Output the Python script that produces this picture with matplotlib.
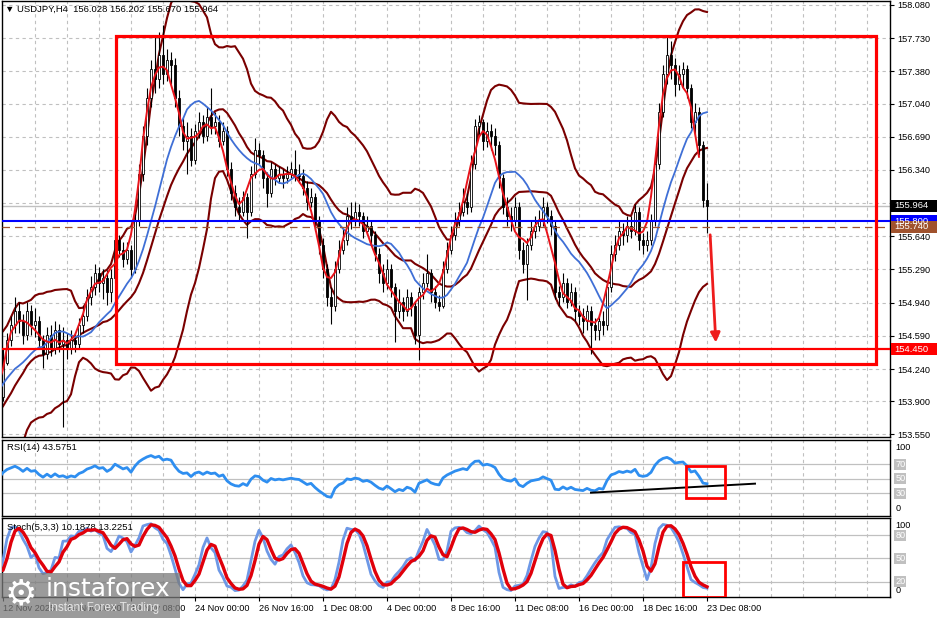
import numpy as np
import pandas as pd
import matplotlib
matplotlib.use('Agg')
import matplotlib.pyplot as plt
import matplotlib.transforms as mtransforms
from matplotlib.patches import Rectangle

plt.rcParams['font.family'] = ['Liberation Sans', 'DejaVu Sans']

# bars before the first visible one (only used to warm up the indicators)
pre_open0 = 153.25
pre_close = [153.20, 153.15, 153.35, 153.25, 153.40, 153.30, 153.35, 153.70, 154.00, 154.15,
             154.30, 154.10, 154.25, 154.05, 154.20, 154.15, 154.30, 154.00, 153.70, 153.95]
pre_high = [153.35, 153.30, 153.45, 153.42, 153.50, 153.48, 153.45, 153.80, 154.10, 154.25,
            154.40, 154.35, 154.32, 154.30, 154.28, 154.25, 154.38, 154.35, 154.05, 154.02]
pre_low = [153.10, 153.05, 153.10, 153.18, 153.20, 153.22, 153.25, 153.30, 153.65, 153.95,
           154.10, 154.02, 154.05, 153.98, 154.00, 154.05, 154.10, 153.92, 153.60, 153.65]

# USDJPY H4, 12 Nov 2025 00:00 .. 23 Dec 2025 08:00
close = [154.30, 154.55, 154.70, 154.85, 154.75, 154.60, 154.85, 154.70, 154.75, 154.55,
         154.40, 154.60, 154.45, 154.65, 154.50, 154.55, 154.45, 154.55, 154.50, 154.70,
         154.80, 155.00, 155.10, 155.25, 155.15, 155.20, 155.05, 155.20, 155.60, 155.50,
         155.40, 155.50, 155.30, 155.80, 156.30, 156.70, 157.10, 157.40, 157.30, 157.55,
         157.35, 157.50, 157.45, 157.10, 156.80, 156.65, 156.70, 156.45, 156.75, 156.85,
         156.70, 156.90, 156.80, 156.85, 156.65, 156.75, 156.35, 156.10, 155.95, 155.90,
         156.05, 155.90, 156.30, 156.55, 156.50, 156.25, 156.10, 156.35, 156.25, 156.30,
         156.25, 156.30, 156.35, 156.30, 156.28, 156.15, 156.00, 156.05, 155.80, 155.55,
         155.30, 155.00, 154.90, 155.30, 155.50, 155.60, 155.85, 155.80, 155.90, 155.85,
         155.70, 155.75, 155.65, 155.45, 155.25, 155.15, 155.30, 155.10, 154.85, 154.95,
         154.85, 155.00, 154.90, 154.60, 155.05, 155.15, 155.25, 155.05, 154.95, 154.90,
         155.30, 155.50, 155.65, 155.80, 155.90, 156.00, 155.95, 156.40, 156.80, 156.85,
         156.65, 156.75, 156.70, 156.60, 156.25, 155.95, 155.85, 155.80, 155.95, 155.50,
         155.35, 155.55, 155.70, 155.75, 155.80, 155.95, 155.85, 155.75, 155.05, 155.00,
         155.15, 154.95, 155.05, 154.85, 154.80, 154.75, 154.85, 154.70, 154.65, 154.75,
         154.70, 155.10, 155.45, 155.55, 155.70, 155.65, 155.75, 155.70, 155.90, 155.60,
         155.55, 155.60, 155.80, 156.40, 156.95, 157.35, 157.55, 157.45, 157.25, 157.35,
         157.40, 157.20, 156.85, 156.95, 156.60, 156.028, 155.964]
high = [154.45, 154.62, 154.80, 155.00, 154.95, 154.82, 154.95, 154.92, 154.88, 154.80,
        154.60, 154.68, 154.70, 154.75, 154.72, 154.68, 154.62, 154.65, 154.62, 154.78,
        154.90, 155.08, 155.22, 155.35, 155.32, 155.30, 155.28, 155.30, 155.68, 155.65,
        155.58, 155.58, 155.55, 155.88, 156.40, 156.80, 157.20, 157.50, 157.75, 157.80,
        157.87, 157.62, 157.58, 157.52, 157.18, 156.90, 156.85, 156.78, 156.82, 156.95,
        156.92, 157.00, 157.20, 156.95, 156.92, 156.85, 156.80, 156.42, 156.18, 156.05,
        156.12, 156.10, 156.38, 156.68, 156.62, 156.55, 156.32, 156.42, 156.40, 156.38,
        156.35, 156.38, 156.42, 156.55, 156.40, 156.35, 156.22, 156.15, 156.10, 155.85,
        155.62, 155.35, 155.10, 155.38, 155.60, 155.72, 155.95, 156.00, 156.00, 155.98,
        155.90, 155.85, 155.80, 155.70, 155.52, 155.35, 155.40, 155.35, 155.15, 155.08,
        155.00, 155.08, 155.05, 154.95, 155.10, 155.25, 155.45, 155.30, 155.12, 155.02,
        155.38, 155.58, 155.75, 155.90, 156.00, 156.15, 156.10, 156.50, 156.88, 156.92,
        156.88, 156.85, 156.82, 156.78, 156.65, 156.30, 156.05, 155.95, 156.05, 156.00,
        155.58, 155.62, 155.80, 155.85, 155.92, 156.05, 156.00, 155.92, 155.80, 155.12,
        155.25, 155.20, 155.15, 155.10, 154.92, 154.88, 154.92, 154.90, 154.78, 154.82,
        154.85, 155.18, 155.55, 155.65, 155.80, 155.78, 155.85, 155.85, 155.98, 155.95,
        155.68, 155.70, 155.88, 156.48, 157.05, 157.45, 157.76, 157.70, 157.52, 157.45,
        157.48, 157.45, 157.25, 157.05, 157.00, 156.65, 156.202]
low = [153.90, 154.28, 154.48, 154.62, 154.62, 154.50, 154.55, 154.60, 154.58, 154.45,
       154.25, 154.35, 154.38, 154.40, 154.42, 153.63, 154.35, 154.40, 154.42, 154.45,
       154.62, 154.75, 154.92, 155.02, 155.05, 154.98, 154.92, 154.95, 155.15, 155.42,
       155.32, 155.35, 155.20, 155.25, 155.75, 156.22, 156.60, 157.00, 157.15, 157.20,
       157.25, 157.28, 157.25, 157.00, 156.70, 156.55, 156.30, 156.38, 156.40, 156.68,
       156.62, 156.65, 156.72, 156.72, 156.58, 156.60, 156.28, 156.02, 155.85, 155.80,
       155.85, 155.62, 155.85, 156.25, 156.40, 156.15, 155.95, 156.05, 156.18, 156.20,
       156.15, 156.20, 156.25, 156.22, 156.20, 156.08, 155.92, 155.95, 155.70, 155.45,
       155.20, 154.90, 154.72, 154.85, 155.25, 155.45, 155.55, 155.72, 155.75, 155.75,
       155.62, 155.65, 155.55, 155.38, 155.15, 155.05, 155.08, 155.00, 154.52, 154.78,
       154.75, 154.80, 154.80, 154.50, 154.33, 154.98, 155.10, 154.95, 154.88, 154.85,
       154.88, 155.25, 155.45, 155.60, 155.75, 155.85, 155.88, 155.90, 156.35, 156.70,
       156.55, 156.58, 156.55, 156.50, 156.15, 155.88, 155.75, 155.70, 155.75, 155.40,
       155.25, 154.97, 155.50, 155.62, 155.70, 155.75, 155.78, 155.65, 154.98, 154.90,
       154.95, 154.88, 154.90, 154.75, 154.70, 154.62, 154.65, 154.40, 154.55, 154.55,
       154.60, 154.65, 155.05, 155.38, 155.50, 155.55, 155.58, 155.62, 155.65, 155.50,
       155.45, 155.48, 155.55, 155.75, 156.35, 156.90, 157.25, 157.30, 157.12, 157.18,
       157.22, 157.10, 156.78, 156.72, 156.50, 155.95, 155.670]

date_labels = ['12 Nov 2025', '14 Nov 16:00', '19 Nov 08:00', '24 Nov 00:00', '26 Nov 16:00',
               '1 Dec 08:00', '4 Dec 00:00', '8 Dec 16:00', '11 Dec 08:00', '16 Dec 00:00',
               '18 Dec 16:00', '23 Dec 08:00']
price_ticks = [158.080, 157.730, 157.380, 157.040, 156.690, 156.340, 155.640,
               155.290, 154.940, 154.590, 154.240, 153.900, 153.550]
grid_prices = price_ticks + [155.990]

bid = 155.964
level_blue = 155.800
level_brown = 155.740
support = 154.450
box_top, box_bottom = 157.753, 154.293

# ---- series with history ----
c = pd.Series(pre_close + close)
h = pd.Series(pre_high + high)
l = pd.Series(pre_low + low)
o = pd.Series(np.r_[pre_open0, c.values[:-1]])
xs = np.arange(-len(pre_close), len(close))

ma_fast = c.rolling(5, center=True).mean()
ma_slow = c.rolling(14).mean()
bb_mid = c.rolling(20).mean()
bb_sd = c.rolling(20).std(ddof=0)
bb_up = bb_mid + 2 * bb_sd
bb_lo = bb_mid - 2 * bb_sd

delta = c.diff()
gain = delta.clip(lower=0)
loss = -delta.clip(upper=0)
avg_g = gain.ewm(alpha=1 / 14, adjust=False).mean()
avg_l = loss.ewm(alpha=1 / 14, adjust=False).mean()
rsi = 100 - 100 / (1 + avg_g / avg_l)

ll = l.rolling(5).min()
hh = h.rolling(5).max()
st_k = 100 * (c - ll).rolling(3).sum() / (hh - ll).rolling(3).sum()
st_d = st_k.rolling(3).mean()

# ---- layout (pixel boxes) ----
W, H = 939, 618
fig = plt.figure(figsize=(W / 100, H / 100), dpi=100)


def box(x0, y0, x1, y1):
    return [x0 / W, 1 - y1 / H, (x1 - x0) / W, (y1 - y0) / H]


ax = fig.add_axes(box(2, 1, 890, 437))
ax_rsi = fig.add_axes(box(2, 440, 890, 516))
ax_st = fig.add_axes(box(2, 518, 890, 597))

XL = (-0.25, 221.75)
grid_kw = dict(color='#c0c0c0', lw=0.8, ls=(0, (3, 3)), zorder=0.5)

for a in (ax, ax_rsi, ax_st):
    a.set_xlim(*XL)
    for xv in range(8, 222, 8):
        a.axvline(xv, **grid_kw)
    for s in a.spines.values():
        s.set_color('black')
        s.set_linewidth(1)
    a.tick_params(axis='x', bottom=False, labelbottom=False)
    a.yaxis.tick_right()

# ---- main panel ----
ax.set_ylim(153.523, 158.122)
for p in grid_prices:
    ax.axhline(p, **grid_kw)
ax.axhline(bid, color='#c0c0c0', lw=1, zorder=0.6)

vis = xs >= 0
ax.plot(xs, bb_up, color='#7a0000', lw=1.5, zorder=1.5)
ax.plot(xs, bb_mid, color='#7a0000', lw=1.5, zorder=1.5)
ax.plot(xs, bb_lo, color='#7a0000', lw=1.5, zorder=1.5)

xv = xs[vis]
ov, cv, hv, lv = o[vis].values, c[vis].values, h[vis].values, l[vis].values
ax.vlines(xv, lv, hv, color='black', lw=0.8, zorder=2)
bull = cv >= ov
ax.bar(xv, np.maximum(np.abs(cv - ov), 0.006), bottom=np.minimum(ov, cv), width=0.68,
       color=np.where(bull, 'white', 'black'), edgecolor='black', linewidth=0.6, zorder=2.1)

ax.plot(xs, ma_slow, color='#3f6fd6', lw=1.3, zorder=3)
ax.plot(xs, ma_fast, color='#e8141b', lw=1.4, zorder=3.1)

ax.axhline(level_blue, color='#0000ff', lw=1.5, zorder=4)
ax.axhline(level_brown, color='#a0522d', lw=0.9, ls=(0, (6, 4)), zorder=4)
ax.axhline(support, color='#ff0000', lw=1.6, zorder=4)
ax.add_patch(Rectangle((28.25, box_bottom), 190, box_top - box_bottom, fill=False,
                       ec='#ff0000', lw=2.3, zorder=5))
ax.annotate('', xy=(178.25, 154.49), xytext=(176.75, 155.685),
            arrowprops=dict(arrowstyle='-|>', color='#ee1c1c', lw=2, mutation_scale=14),
            zorder=5)

ax.set_yticks(price_ticks)
ax.set_yticklabels([f'{p:.3f}' for p in price_ticks])
ax.tick_params(axis='y', length=3, pad=2, labelsize=6.6, direction='out')


def ypx(p):
    return 5 + (158.08 - p) * 94.8


def tag(p, fc):
    yp = ypx(p)
    fig.add_artist(Rectangle((891 / W, 1 - (yp + 6) / H), 46 / W, 12 / H,
                             transform=fig.transFigure, fc=fc, ec='none', zorder=6))
    fig.text(894 / W, 1 - yp / H, f'{p:.3f}', color='white', fontsize=6.8,
             va='center', ha='left', zorder=7)


tag(level_blue, '#0000ff')
tag(level_brown, '#a0522d')
tag(bid, 'black')
tag(support, '#ff0000')

fig.text(5 / W, 1 - 9 / H, '\u25bc USDJPY,H4  156.028 156.202 155.670 155.964',
         fontsize=6.8, va='center', ha='left')

# ---- RSI panel ----
ax_rsi.set_ylim(-1.1, 103.0)
ax_rsi.set_yticks([])
for lv_ in (30, 50, 70):
    ax_rsi.axhline(lv_, color='#c0c0c0', lw=0.9, zorder=0.6)
ax_rsi.plot(xs, rsi, color='#2e8ef0', lw=2, zorder=3)
ax_rsi.plot([147, 188], [30.8, 43.2], color='black', lw=1.4, zorder=4)
ax_rsi.add_patch(Rectangle((170.75, 23.6), 9.75, 43.8, fill=False, ec='#ff0000', lw=2, zorder=5))
ax_rsi.text(0.006, 0.9, 'RSI(14) 43.5751', transform=ax_rsi.transAxes, fontsize=6.8,
            va='center', ha='left')

# ---- Stochastic panel ----
ax_st.set_ylim(0.26, 102.3)
ax_st.set_yticks([])
for lv_ in (20, 50, 80):
    ax_st.axhline(lv_, color='#c0c0c0', lw=0.9, zorder=0.6)
ax_st.plot(xs, st_k, color='#6d98e6', lw=2, zorder=3)
ax_st.plot(xs, st_d, color='#e0000b', lw=2.4, zorder=3.1)
ax_st.add_patch(Rectangle((170.0, 0.5), 10.5, 44.9, fill=False, ec='#ff0000', lw=2, zorder=5))
ax_st.text(0.006, 0.88, 'Stoch(5,3,3) 10.1878 13.2251', transform=ax_st.transAxes,
           fontsize=6.8, va='center', ha='left')

ax_st.set_xticks(range(0, 177, 16))
ax_st.set_xticklabels(date_labels)
ax_st.tick_params(axis='x', bottom=True, labelbottom=True, length=3, pad=2, labelsize=6.6)
for t in ax_st.get_xticklabels():
    t.set_ha('left')


# right-side level labels of the sub panels
def side_label(a, v, txt, boxed=False):
    tr = mtransforms.blended_transform_factory(a.transAxes, a.transData)
    kw = dict(transform=tr, fontsize=6.6, va='center', ha='left', clip_on=False)
    if boxed:
        a.text(1.006, v, txt, color='white',
               bbox=dict(boxstyle='square,pad=0.1', fc='#c0c0c0', ec='none'), **kw)
    else:
        a.text(1.006, v, txt, color='black', **kw)


side_label(ax_rsi, 93.4, '100')
for v in (70, 50, 30):
    side_label(ax_rsi, v, str(v), boxed=True)
side_label(ax_rsi, 8.5, '0')
side_label(ax_st, 92.9, '100')
for v in (80, 50, 20):
    side_label(ax_st, v, str(v), boxed=True)
side_label(ax_st, 9.3, '0')

# ---- watermark ----
fig.add_artist(Rectangle((0, 0), 180 / W, 45 / H, transform=fig.transFigure,
                         fc='#7a7a7a', ec='none', alpha=0.75, zorder=10))
fig.text(5 / W, 1 - 594 / H, '\u2699', color='white', fontsize=26, va='center',
         ha='left', family='DejaVu Sans', zorder=11)
fig.text(46 / W, 1 - 589 / H, 'instaforex', color='white', fontsize=18, va='center',
         ha='left', family='DejaVu Sans', zorder=11)
fig.text(48 / W, 1 - 608 / H, 'Instant Forex Trading', color='#e6e6e6', fontsize=8.5,
         va='center', ha='left', zorder=11)

fig.savefig('out.png', dpi=100)
